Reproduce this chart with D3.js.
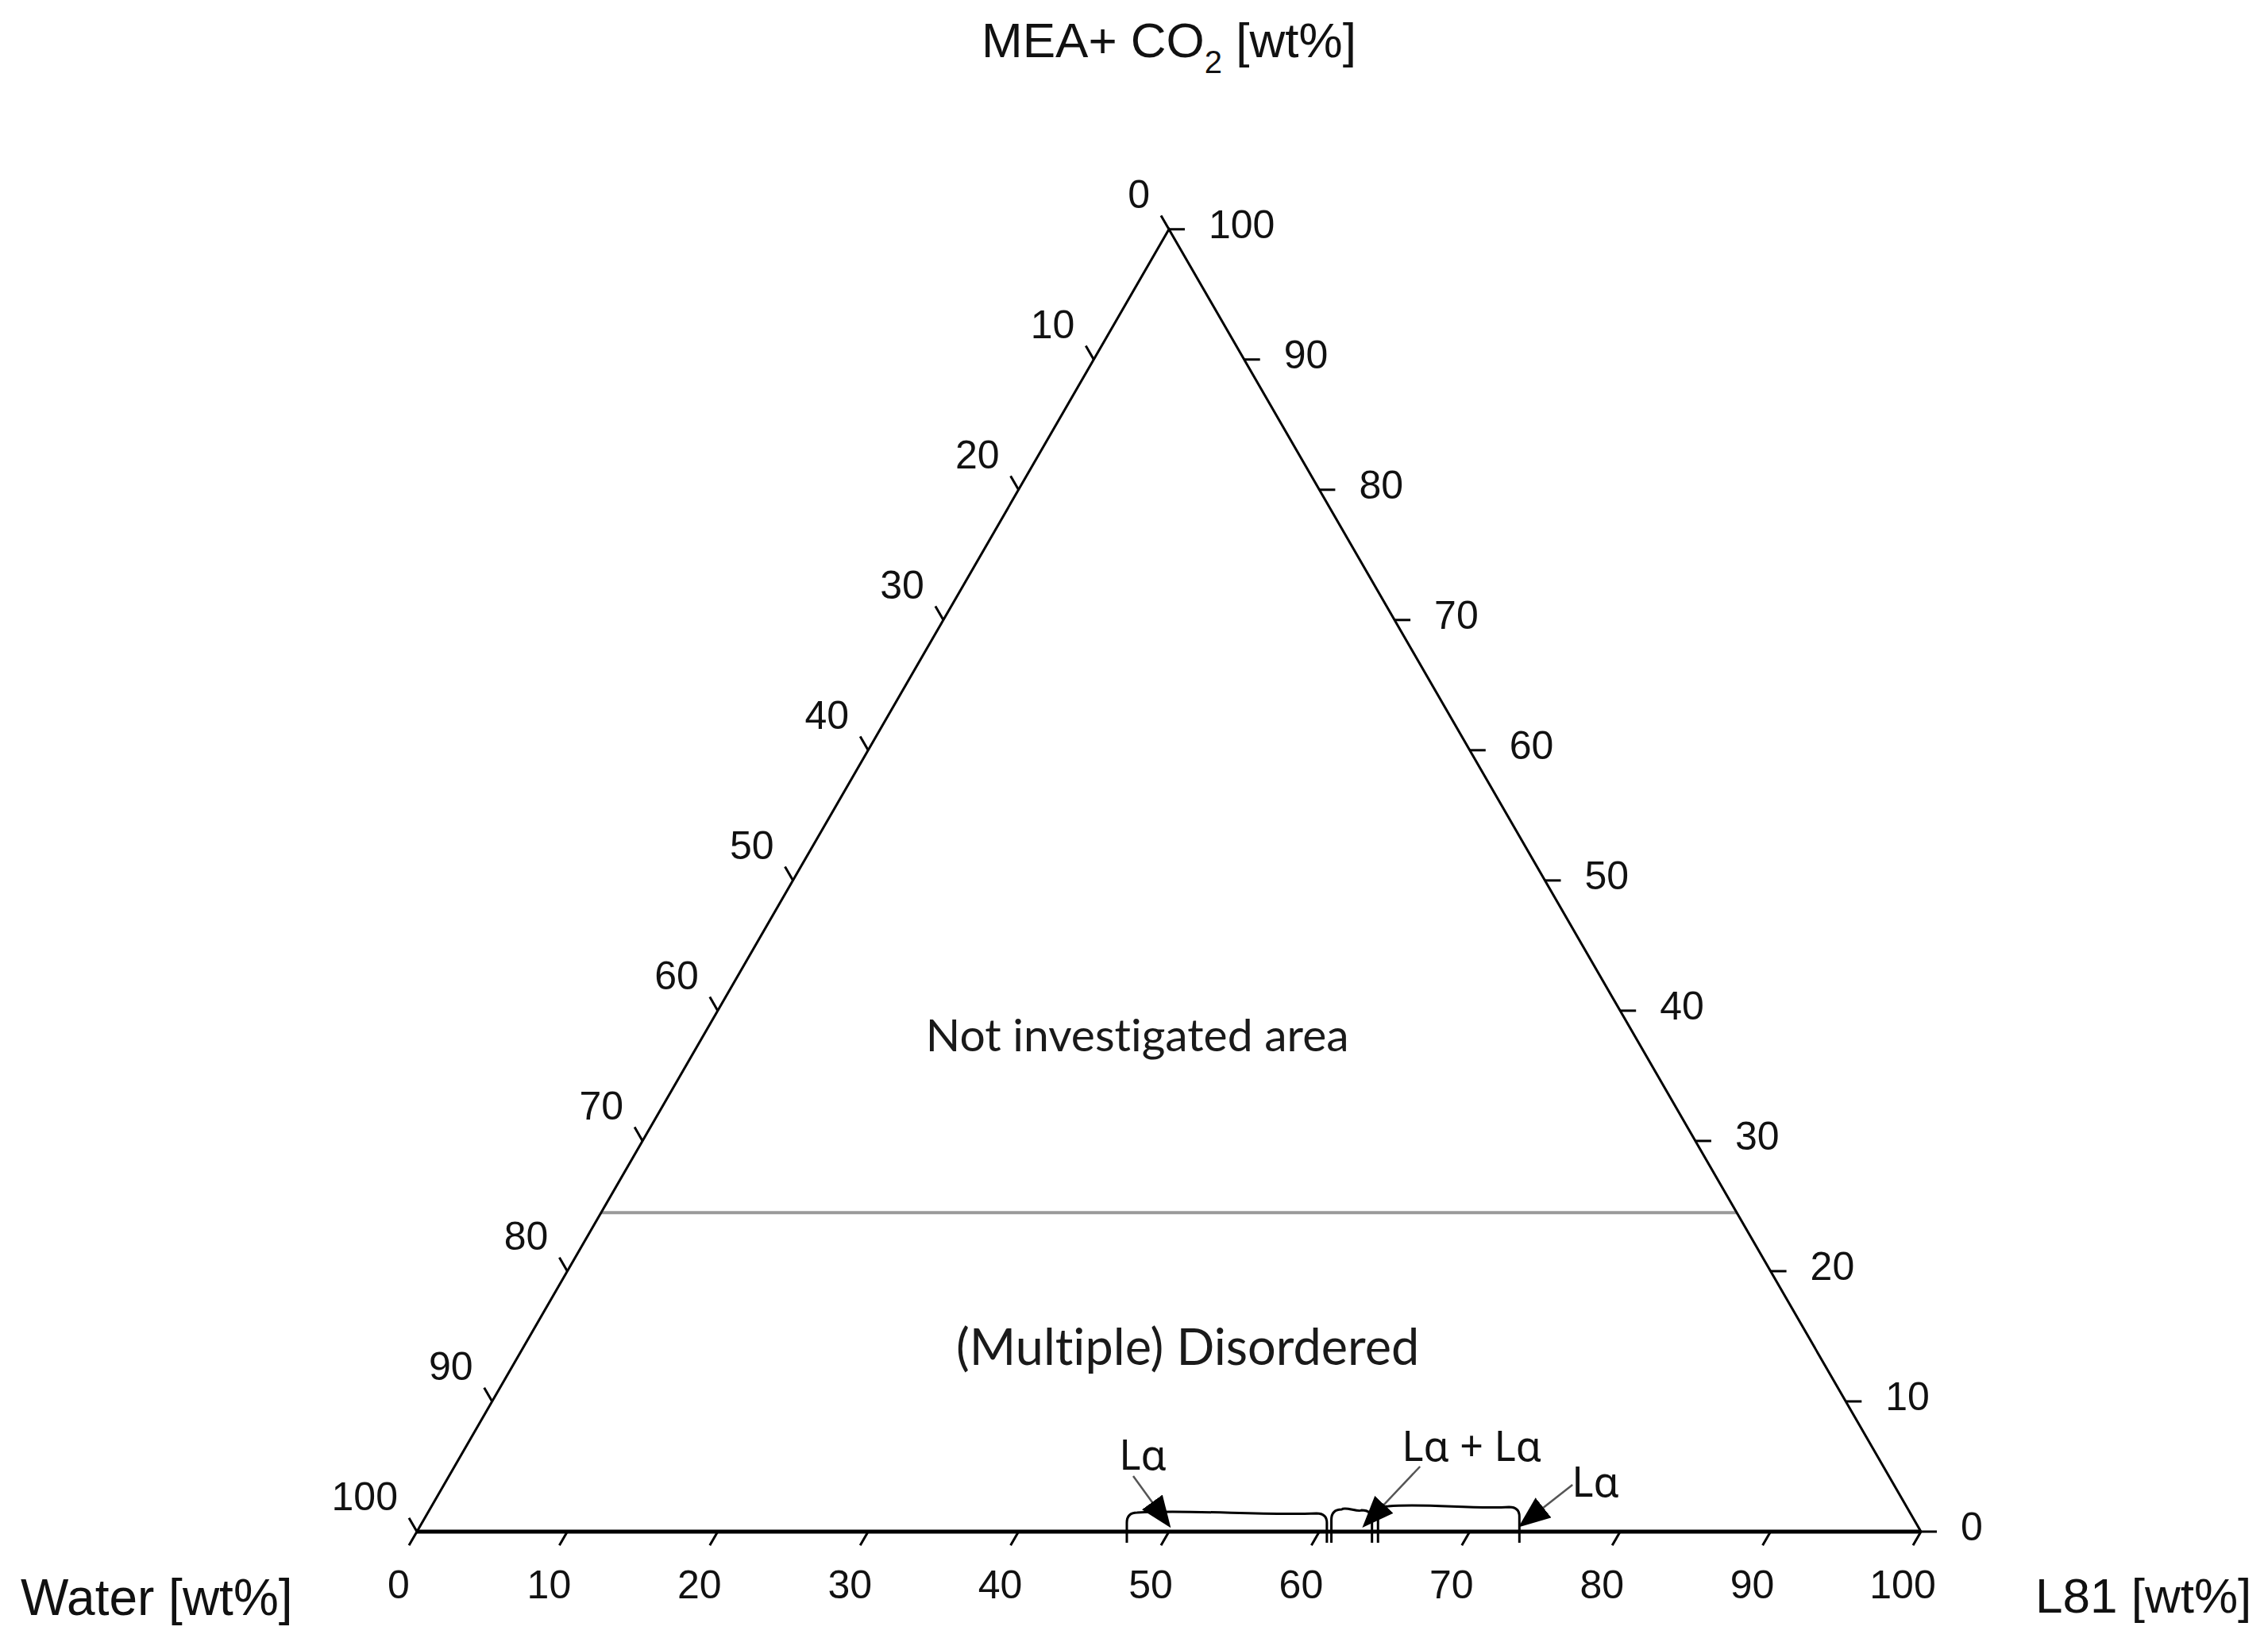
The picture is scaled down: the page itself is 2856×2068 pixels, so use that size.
<!DOCTYPE html>
<html>
<head>
<meta charset="utf-8">
<script src="https://cdn.jsdelivr.net/npm/d3@7"></script>
<style>
    html, body { margin: 0; padding: 0; background: #fff; }
    svg text { font-family: "Liberation Sans", Arial, sans-serif; fill: #111; font-variant-ligatures: none; }
</style>
</head>
<body>
<div id="chart"></div>
<script>
// ---------- data ----------
// tick values on every side (wt%)
const tickValues = [0, 10, 20, 30, 40, 50, 60, 70, 80, 90, 100]

// axis titles
const leftTitle = "Water [wt%]"
const rightTitle = "L81 [wt%]"
const topTitle = ["MEA+ CO", "2", " [wt%]"]

// limit of the investigated area, MEA+CO2 wt%
const boundaryMEA = [24.5]

// area names
const areaNames = ["Not investigated area", "(Multiple) Disordered"]

// phases found along the water / L81 edge (L81 wt%)
const phaseNames = ["Lα", "Lα + Lα", "Lα"]
const phaseFrom = [47.2, 60.8, 63.9]
const phaseTo = [60.5, 63.5, 73.3]
const phasePoint = [50.0, 63.0, 73.4]

// ---------- layout ----------
const width = 2856
const height = 2068
const side = 1894
const baseX = 525
const baseY = 1929
const triH = side * Math.sqrt(3) / 2

const svg = d3.select('#chart').append('svg')
    .attr('width', width)
    .attr('height', height)
    .style('background', '#fff')

// bottom axis runs along L81, height along MEA+CO2
const x = d3.scaleLinear().domain([0, 100]).range([baseX, baseX + side])
const y = d3.scaleLinear().domain([0, 100]).range([baseY, baseY - triH])
// ternary -> screen
const proj = (l81, mea) => [x(l81 + mea / 2), y(mea)]

const g = svg.append('g')

// layers
const gridLayer = g.append('g').attr('class', 'layer--boundary')
const axisLayer = g.append('g').attr('class', 'layer--axis')
const phaseLayer = g.append('g').attr('class', 'layer--phases')
const textLayer = g.append('g').attr('class', 'layer--text')

// gray boundary line
gridLayer.selectAll('line')
    .data(boundaryMEA)
    .enter()
    .append('line')
    .attr('x1', d => proj(0, d)[0])
    .attr('y1', d => proj(0, d)[1])
    .attr('x2', d => proj(100 - d, d)[0])
    .attr('y2', d => proj(100 - d, d)[1])
    .attr('stroke', '#9a9a9a')
    .attr('stroke-width', 4)

// triangle sides
const A = proj(0, 100), BL = proj(0, 0), BR = proj(100, 0)
axisLayer.append('path')
    .attr('d', `M${BL}L${A}L${BR}`)
    .attr('fill', 'none')
    .attr('stroke', '#000')
    .attr('stroke-width', 3)
axisLayer.append('line')
    .attr('x1', BL[0]).attr('y1', BL[1])
    .attr('x2', BR[0]).attr('y2', BR[1])
    .attr('stroke', '#000')
    .attr('stroke-width', 5)

// ticks: each side has its point function, tick direction and label placement
const tickLen = 20
const c60 = 0.5, s60 = Math.sqrt(3) / 2
const sides = [
    {   // bottom, L81
        pt: v => proj(v, 0), dir: [-c60, s60],
        anchor: 'middle', dx: -23, dy: 67
    },
    {   // left, Water (0 at apex)
        pt: v => proj(0, 100 - v), dir: [-c60, -s60],
        anchor: 'end', dx: -24, dy: -44
    },
    {   // right, MEA+CO2 (0 at bottom right)
        pt: v => proj(100 - v, v), dir: [1, 0],
        anchor: 'start', dx: 50, dy: -6
    }
]

sides.forEach(s => {
    const tg = axisLayer.append('g')
    tg.selectAll('line')
        .data(tickValues)
        .enter()
        .append('line')
        .attr('x1', d => s.pt(d)[0])
        .attr('y1', d => s.pt(d)[1])
        .attr('x2', d => s.pt(d)[0] + s.dir[0] * tickLen)
        .attr('y2', d => s.pt(d)[1] + s.dir[1] * tickLen)
        .attr('stroke', '#000')
        .attr('stroke-width', 3)
    tg.selectAll('text')
        .data(tickValues)
        .enter()
        .append('text')
        .attr('x', d => s.pt(d)[0] + s.dx)
        .attr('y', d => s.pt(d)[1] + s.dy)
        .attr('text-anchor', s.anchor)
        .attr('dominant-baseline', 'central')
        .style('font-size', '50px')
        .text(d => d)
})

// axis titles
textLayer.append('text')
    .attr('x', 26).attr('y', 2034)
    .style('font-size', '64px')
    .text(leftTitle)
textLayer.append('text')
    .attr('x', 2563).attr('y', 2031)
    .style('font-size', '62px')
    .text(rightTitle)
const tt = textLayer.append('text')
    .attr('x', A[0]).attr('y', 72)
    .attr('text-anchor', 'middle')
    .style('font-size', '62px')
tt.append('tspan').text(topTitle[0])
tt.append('tspan').attr('dy', 20).style('font-size', '40px').text(topTitle[1])
tt.append('tspan').attr('dy', -20).text(topTitle[2])

// area names, placed by ternary position [L81, MEA]
const areaPos = [[28.8, 38.2], [44.1, 14.3]]
const areaSize = [57, 63]
textLayer.selectAll('.area-name')
    .data(areaNames)
    .enter()
    .append('text')
    .attr('class', 'area-name')
    .attr('x', (d, i) => proj(...areaPos[i])[0])
    .attr('y', (d, i) => proj(...areaPos[i])[1])
    .attr('text-anchor', 'middle')
    .attr('dominant-baseline', 'central')
    .style('font-family', 'Lato, "Open Sans", sans-serif')
    .style('font-size', (d, i) => areaSize[i] + 'px')
    .style('fill', '#1a1a1a')
    .text(d => d)

// ---------- phase brackets on the bottom edge ----------
const axisY = y(0)
const bracketPath = (x0, x1, h) => {
    const r = 13
    return `M${x0},${axisY + 14}L${x0},${axisY - h + r}` +
        `Q${x0},${axisY - h} ${x0 + r},${axisY - h}` +
        `C${(x0 * 2 + x1) / 3},${axisY - h - 4} ${(x0 + x1 * 2) / 3},${axisY - h + 4} ${x1 - r},${axisY - h + 1}` +
        `Q${x1},${axisY - h + 1} ${x1},${axisY - h + r}L${x1},${axisY + 14}`
}
phaseLayer.selectAll('path.bracket')
    .data(phaseNames)
    .enter()
    .append('path')
    .attr('class', 'bracket')
    .attr('d', (d, i) => bracketPath(x(phaseFrom[i]), x(phaseTo[i]), 24 + 4 * i))
    .attr('fill', 'none')
    .attr('stroke', '#000')
    .attr('stroke-width', 3)

// arrow marker
svg.append('defs').append('marker')
    .attr('id', 'head')
    .attr('viewBox', '0 0 10 10')
    .attr('refX', 9).attr('refY', 5)
    .attr('markerUnits', 'userSpaceOnUse')
    .attr('markerWidth', 40).attr('markerHeight', 32)
    .attr('preserveAspectRatio', 'none')
    .attr('orient', 'auto')
    .append('path')
    .attr('d', 'M0,0L10,5L0,10Z')
    .attr('fill', '#000')

// label offsets from the arrow tip: [labelDx, labelDy, lineDx, lineDy]
const arrowOffsets = [[-33, -91, -45, -62], [135, -102, 70, -74], [94, -57, 65, -51]]
const tipY = axisY - 8

phaseLayer.selectAll('line.pointer')
    .data(phaseNames)
    .enter()
    .append('line')
    .attr('class', 'pointer')
    .attr('x1', (d, i) => x(phasePoint[i]) + arrowOffsets[i][2])
    .attr('y1', (d, i) => tipY + arrowOffsets[i][3])
    .attr('x2', (d, i) => x(phasePoint[i]))
    .attr('y2', tipY)
    .attr('stroke', '#555')
    .attr('stroke-width', 2.5)
    .attr('marker-end', 'url(#head)')

phaseLayer.selectAll('text.phase')
    .data(phaseNames)
    .enter()
    .append('text')
    .attr('class', 'phase')
    .attr('x', (d, i) => x(phasePoint[i]) + arrowOffsets[i][0])
    .attr('y', (d, i) => tipY + arrowOffsets[i][1])
    .attr('text-anchor', 'middle')
    .attr('dominant-baseline', 'central')
    .style('font-family', '"Noto Sans", "DejaVu Sans", sans-serif')
    .style('font-size', '52px')
    .text(d => d)
</script>
</body>
</html>
